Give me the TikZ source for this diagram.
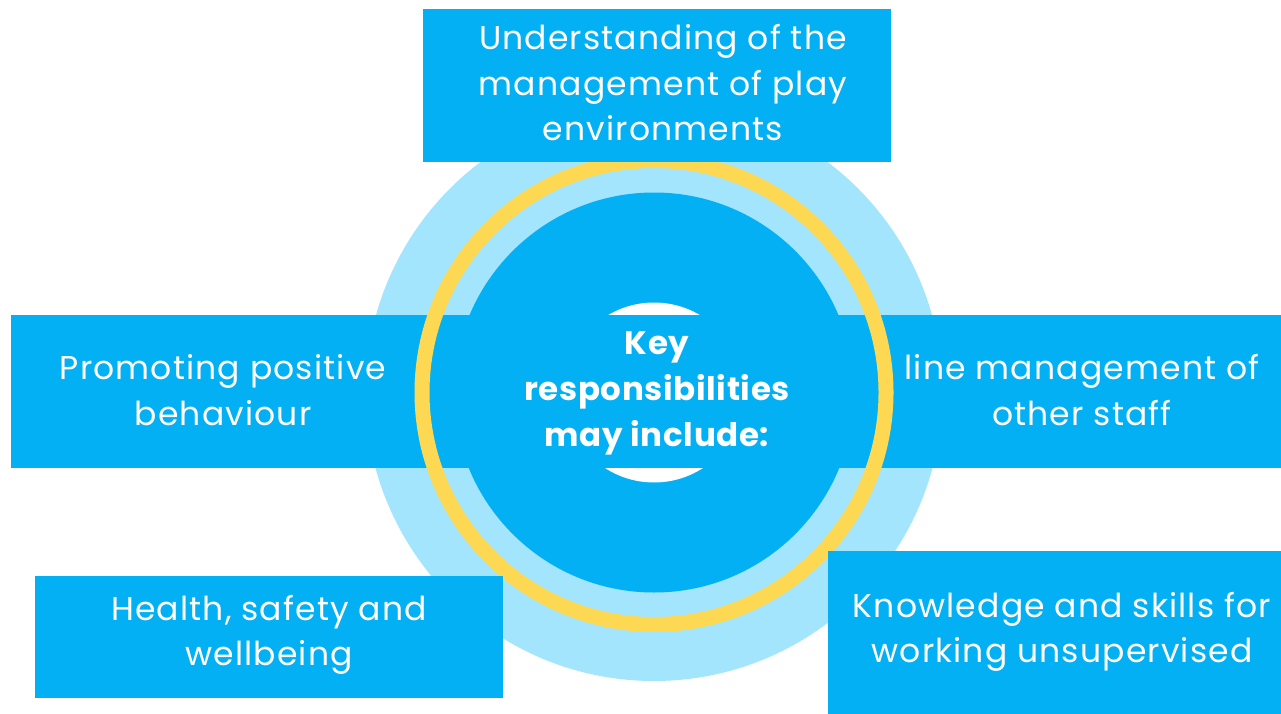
\documentclass[tikz,border=0pt]{standalone}
\usepackage{fontspec}
\setmainfont[LetterSpace=3.5]{Poppins}
\definecolor{dblue}{HTML}{03B0F3}
\definecolor{lblue}{HTML}{A3E5FD}
\definecolor{ringc}{HTML}{FDD853}
\begin{document}
\begin{tikzpicture}[x=1pt,y=-1pt,
  box/.style={fill=dblue, draw=none, inner sep=0pt, outer sep=0pt},
  lbl/.style={text=white, align=center, inner sep=0pt, font=\fontsize{33}{45.5}\selectfont},
  keylbl/.style={text=white, align=center, inner sep=0pt, font=\bfseries\fontsize{32.5}{46}\selectfont\addfontfeatures{LetterSpace=2}}]
\useasboundingbox (0,0) rectangle (1281,714);
\coordinate (c) at (654,392.5);
% circles
\fill[lblue] (c) circle (288.5pt);
\fill[dblue] (c) circle (200pt);
\fill[white] (c) circle (90pt);
% horizontal band with side boxes
\node[box, minimum width=1270pt, minimum height=153pt] (band) at (646,391.5) {};
% ring
\draw[ringc, line width=15pt] (c) circle (232pt);
% other boxes
\node[box, minimum width=468pt, minimum height=153pt] (topbox) at (657,85.5) {};
\node[box, minimum width=468pt, minimum height=122pt] (blbox) at (269,637) {};
\node[box, minimum width=453pt, minimum height=163pt] (brbox) at (1054.5,632) {};
% texts
\node[lbl] (ttop) at (663,83) {Understanding of the\\management of play\\environments};
\node[lbl] (tleft) at (223,390) {Promoting positive\\behaviour};
\node[lbl] (tright) at (1082,390) {line management of\\other staff};
\node[lbl] (tbl) at (269,635) {Health, safety and\\wellbeing};
\node[lbl] (tbr) at (1062,632) {Knowledge and skills for\\working unsupervised};
\node[keylbl] (key) at (657,393) {Key\\responsibilities\\may include:};
\end{tikzpicture}
\end{document}
